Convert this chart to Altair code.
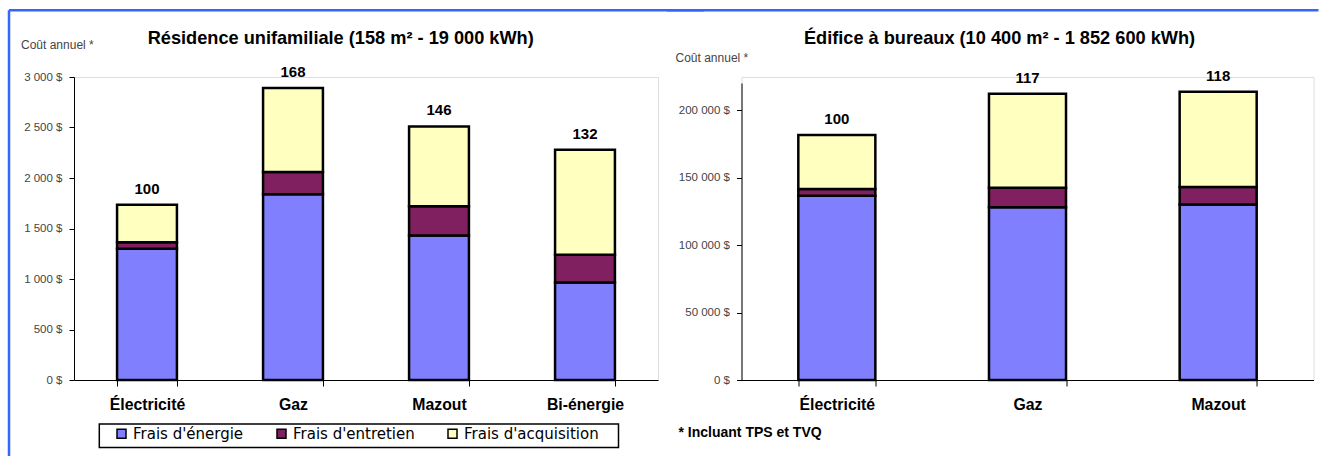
import altair as alt
import pandas as pd

# ---------------- data ----------------
series = ["Frais d'énergie", "Frais d'entretien", "Frais d'acquisition"]
colors = ["#8080FF", "#802060", "#FFFFC0"]

cat_res = ["Électricité", "Gaz", "Mazout", "Bi-énergie"]
energie_res = [1300, 1840, 1430, 965]
entretien_res = [65, 220, 290, 275]
acquisition_res = [370, 830, 790, 1040]
indice_res = [100, 168, 146, 132]

cat_bur = ["Électricité", "Gaz", "Mazout"]
energie_bur = [136500, 128000, 130000]
entretien_bur = [5000, 14500, 13000]
acquisition_bur = [40000, 69500, 70500]
indice_bur = [100, 117, 118]

ticks_res = [0, 500, 1000, 1500, 2000, 2500, 3000]
ticks_bur = [0, 50000, 100000, 150000, 200000]

title_res = "Résidence unifamiliale (158 m² - 19 000 kWh)"
title_bur = "Édifice à bureaux (10 400 m² - 1 852 600 kWh)"
ylabel = "Coût annuel *"
footnote = "* Incluant TPS et TVQ"

BLUE = "#3366FF"
LABEL_EXPR = "replace(format(datum.value, ','), ',', ' ') + ' $'"
H = 303


def long_df(cats, e, m, a):
    rows = []
    for i, c in enumerate(cats):
        for k, (s, v) in enumerate(zip(series, [e[i], m[i], a[i]])):
            rows.append({"cat": c, "serie": s, "ord": k, "value": v})
    return pd.DataFrame(rows)


def tot_df(cats, e, m, a, idx):
    return pd.DataFrame({"cat": cats,
                         "total": [e[i] + m[i] + a[i] for i in range(len(cats))],
                         "idx": [str(v) for v in idx]})


def one(txt):
    return pd.DataFrame({"t": [txt]})


def panel(cats, e, m, a, idx, ticks, ymax, ytop, W, pin, title, title_x, title_y,
          yl_x, yl_y, frame_top, frame_x1, frame_x2, show_legend, extra):
    xsc = alt.Scale(domain=cats, paddingInner=pin, paddingOuter=pin / 2)
    ysc = alt.Scale(domain=[0, ymax], nice=False, range=[H, ytop])
    xax = alt.Axis(title=None, labelAngle=0, labelFont="Liberation Sans",
                   labelFontSize=15.8, labelFontWeight="bold", labelColor="black",
                   tickBand="extent", tickSize=6, labelPadding=11,
                   domainColor="black", tickColor="black")
    yax = alt.Axis(title=None, values=ticks, labelExpr=LABEL_EXPR,
                   labelFontSize=11.5, labelColor="#444444", tickSize=5,
                   labelPadding=7, domainColor="black", tickColor="black",
                   grid=False)
    if show_legend:
        leg = alt.Legend(title=None, orient="none", legendX=40, legendY=349,
                         direction="horizontal", columns=3, columnPadding=30,
                         symbolType="square", symbolSize=81,
                         symbolStrokeColor="black", symbolStrokeWidth=1.5,
                         labelFont="DejaVu Sans", labelFontSize=15,
                         labelColor="black", labelOffset=4, padding=0)
    else:
        leg = None
    bars = alt.Chart(long_df(cats, e, m, a)).mark_bar(
        stroke="black", strokeWidth=2.5, opacity=1).encode(
        x=alt.X("cat:N", scale=xsc, axis=xax, sort=cats),
        y=alt.Y("value:Q", scale=ysc, axis=yax, stack="zero"),
        color=alt.Color("serie:N", scale=alt.Scale(domain=series, range=colors),
                        legend=leg),
        order=alt.Order("ord:Q", sort="ascending"),
    )
    labels = alt.Chart(tot_df(cats, e, m, a, idx)).mark_text(
        baseline="bottom", dy=-8, fontSize=15, fontWeight="bold",
        font="Liberation Sans", color="black").encode(
        x=alt.X("cat:N", sort=cats), y="total:Q", text="idx:N")
    ttl = alt.Chart(one(title)).mark_text(
        fontSize=18.2, fontWeight="bold", font="Liberation Sans", align="center",
        baseline="middle", color="black").encode(
        x=alt.value(title_x), y=alt.value(title_y), text="t:N")
    ylab = alt.Chart(one(ylabel)).mark_text(
        fontSize=12, font="Liberation Sans", align="left", baseline="middle",
        color="#444444").encode(x=alt.value(yl_x), y=alt.value(yl_y), text="t:N")
    topline = alt.Chart(one("f")).mark_rule(color=BLUE, strokeWidth=2.5).encode(
        x=alt.value(frame_x1), x2=alt.value(frame_x2),
        y=alt.value(frame_top), y2=alt.value(frame_top))
    layers = [bars, labels, ttl, ylab, topline] + extra
    return alt.layer(*layers).properties(width=W, height=H)


# left panel (plot origin ~ (73, 76))
left_frame = alt.Chart(one("f")).mark_rule(color=BLUE, strokeWidth=2.5).encode(
    x=alt.value(-65), x2=alt.value(-65), y=alt.value(-66.7), y2=alt.value(379))
legend_box = alt.Chart(one("b")).mark_rect(
    fill="white", fillOpacity=0, stroke="black", strokeWidth=1.5).encode(
    x=alt.value(25.3), x2=alt.value(544.5), y=alt.value(347.1), y2=alt.value(370.5))

left = panel(cat_res, energie_res, entretien_res, acquisition_res, indice_res,
             ticks_res, 3000, 0, 584, 0.59, title_res, 266.7, -37.9,
             -53, -32, -66.7, -65, 630, True, [legend_box, left_frame])

# right panel (plot origin ~ (739, 76), axis top at ~82)
foot = alt.Chart(one(footnote)).mark_text(
    fontSize=14, fontWeight="bold", font="Liberation Sans", align="left",
    baseline="middle", color="black").encode(
    x=alt.value(-63), y=alt.value(355.8), text="t:N")

right = panel(cat_bur, energie_bur, entretien_bur, acquisition_bur, indice_bur,
              ticks_bur, 220000, 6, 572, 0.596, title_bur, 258, -37.9,
              -66, -19.2, -66.7, -75, 577, False, [foot])

chart = alt.hconcat(left, right, spacing=-41.5).resolve_scale(
    color="independent").properties(
    padding={"left": 7, "top": 8, "right": 0, "bottom": 0},
    background="white").configure_view(stroke=None).configure(
    font="Liberation Sans")

chart.save("out.html", embed_options={"renderer": "svg", "actions": False})
